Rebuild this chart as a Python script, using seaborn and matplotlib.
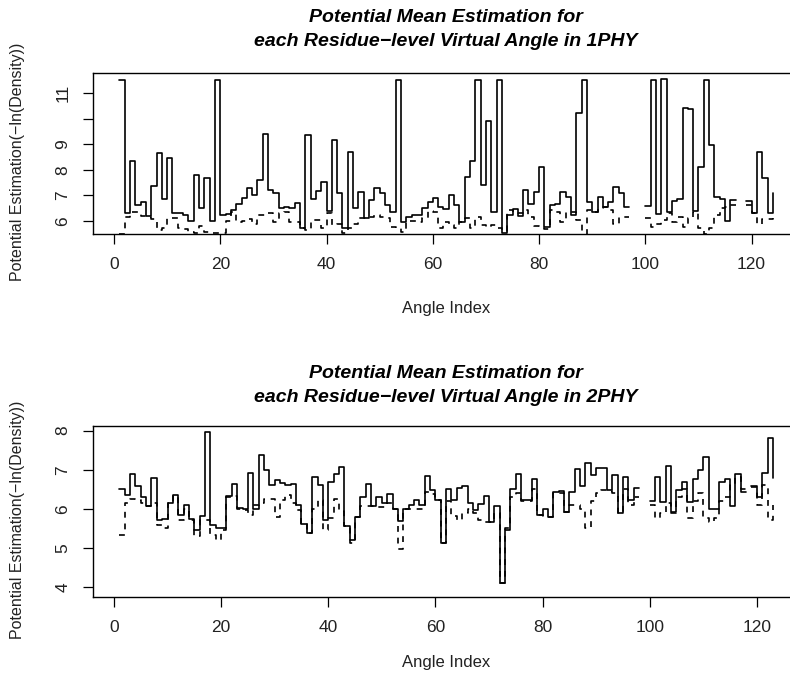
import numpy as np
import pandas as pd
import matplotlib
matplotlib.use("Agg")
import matplotlib.pyplot as plt
import seaborn as sns

NA = np.nan

# ---------------- data ----------------
angle_index_1phy = list(range(1, 125))
potential_1phy_solid = [
    11.53, 6.30, 8.33, 6.63, 6.76, 6.20, 7.37, 8.65, 6.85, 8.46,
    6.33, 6.30, 6.24, 6.00, 7.80, 6.50, 7.70, 6.00, 11.53, 6.24,
    6.27, 6.43, 6.65, 6.90, 7.28, 7.00, 7.60, 9.40, 7.22, 7.08,
    6.52, 6.56, 6.50, 6.72, 5.71, 9.35, 6.85, 7.18, 7.52, 6.40,
    9.16, 7.11, 5.71, 8.70, 6.50, 7.15, 6.10, 6.82, 7.28, 7.08,
    6.63, 6.34, 11.53, 5.97, 6.17, 6.24, 6.24, 6.52, 6.76, 6.89,
    6.56, 6.47, 7.02, 6.63, 5.97, 7.74, 8.33, 11.53, 7.39, 9.92,
    6.37, 11.53, 5.52, 6.24, 6.47, 6.20, 7.22, 6.65, 7.15, 8.13,
    5.78, 6.63, 6.65, 7.15, 6.92, 6.24, 10.22, 11.53, 6.76, 6.37,
    6.92, 6.56, 6.76, 7.35, 7.08, 6.56, NA, NA, NA, 6.60,
    11.53, 6.27, 11.57, 6.37, 6.78, 6.86, 10.44, 10.39, 6.40, 8.13,
    11.53, 8.98, 6.95, 6.86, 6.01, 6.82, NA, NA, 6.78, 6.30,
    8.69, 7.67, 6.30, 7.08,
]
potential_1phy_dashed = [
    5.50, 6.17, 6.34, 6.37, 6.20, 6.17, 6.08, 5.65, 5.71, 6.13,
    6.13, 5.71, 5.68, 5.56, 5.52, 5.82, 5.58, 5.52, 5.52, 5.52,
    6.00, 6.37, 5.97, 6.00, 6.08, 5.87, 6.24, 6.24, 6.30, 5.97,
    6.30, 6.37, 5.97, 5.97, 5.71, 5.65, 6.04, 6.04, 5.71, 6.30,
    5.84, 5.90, 5.52, 5.71, 5.90, 6.13, 6.10, 6.17, 6.24, 6.17,
    6.10, 5.78, 5.71, 5.58, 6.00, 6.00, 5.97, 6.10, 6.39, 6.37,
    5.71, 5.95, 5.84, 5.71, 5.97, 6.10, 5.71, 6.17, 5.84, 5.78,
    5.84, 5.71, 5.60, 6.43, 6.37, 6.30, 6.43, 6.17, 5.82, 5.78,
    5.70, 6.43, 6.37, 5.97, 6.37, 6.37, 6.04, 5.30, 6.43, 6.37,
    6.50, 6.56, 6.43, 5.87, 6.17, 6.17, NA, NA, NA, 6.13,
    5.78, 5.90, 6.04, 6.30, 5.97, 6.17, 5.78, 6.10, 6.37, 5.71,
    5.50, 5.71, 6.24, 6.50, 6.56, 6.63, NA, NA, 6.63, 6.30,
    5.87, 6.08, 6.08, 6.10,
]

angle_index_2phy = list(range(1, 124))
potential_2phy_solid = [
    6.50, 6.35, 6.88, 6.59, 6.29, 6.07, 6.78, 5.71, 5.74, 6.14,
    6.35, 5.84, 6.09, 5.73, 5.45, 5.82, 7.96, 5.57, 5.50, 5.50,
    6.32, 6.63, 6.03, 5.98, 6.92, 6.00, 7.38, 7.00, 6.61, 6.74,
    6.65, 6.62, 6.63, 6.09, 5.62, 5.37, 6.82, 6.60, 5.71, 6.69,
    6.88, 7.06, 5.56, 5.21, 5.79, 6.29, 6.63, 6.07, 6.31, 6.14,
    6.38, 6.00, 5.68, 6.00, 6.09, 6.22, 6.09, 6.84, 6.48, 6.22,
    5.13, 6.50, 6.22, 6.54, 6.59, 6.15, 5.97, 6.12, 6.33, 5.67,
    6.07, 4.10, 5.45, 6.50, 6.88, 6.22, 6.22, 6.75, 5.85, 6.00,
    5.79, 6.42, 6.45, 5.92, 6.44, 7.03, 6.58, 7.16, 6.86, 7.05,
    7.05, 6.48, 6.86, 5.88, 6.80, 6.22, 6.52, NA, NA, 6.20,
    6.80, 6.18, 7.09, 5.92, 6.48, 6.69, 6.18, 6.75, 7.00, 7.33,
    6.00, 6.00, 6.69, 6.75, 6.07, 6.90, 6.44, NA, 6.59, 6.29,
    6.92, 7.80, 6.78,
]
potential_2phy_dashed = [
    5.32, 6.15, 6.25, 6.22, 6.14, 6.07, 6.14, 5.58, 5.50, 6.14,
    6.32, 5.71, 6.00, 5.71, 5.30, 5.71, 5.71, 5.32, 5.21, 5.45,
    6.31, 6.32, 5.98, 5.97, 5.85, 6.09, 6.14, 6.25, 6.26, 5.79,
    6.22, 6.35, 6.14, 5.97, 5.62, 5.37, 5.98, 6.22, 5.45, 5.77,
    6.26, 5.95, 5.56, 5.11, 5.79, 6.07, 6.07, 6.07, 6.05, 6.05,
    6.14, 6.00, 4.96, 5.98, 6.00, 6.00, 5.98, 6.44, 6.38, 6.22,
    5.13, 6.20, 5.80, 5.70, 5.90, 6.00, 5.90, 5.70, 5.65, 5.67,
    5.90, 4.10, 5.50, 6.30, 6.40, 6.20, 6.20, 6.50, 5.85, 5.80,
    5.79, 6.40, 6.40, 5.92, 6.10, 6.10, 6.00, 5.50, 6.20, 6.40,
    6.48, 6.45, 6.40, 5.90, 6.50, 6.10, 6.30, NA, NA, 6.10,
    5.75, 5.90, 6.15, 5.90, 6.30, 6.50, 5.75, 6.20, 6.40, 5.75,
    5.65, 5.75, 6.20, 6.30, 6.60, 6.80, 6.50, NA, 6.55, 6.10,
    6.60, 5.70, 6.10,
]

x_ticks = [0, 20, 40, 60, 80, 100, 120]
y_ticks_1phy = [6, 7, 8, 9, 10, 11]
y_ticklabels_1phy = ["6", "7", "8", "9", "", "11"]
y_ticks_2phy = [4, 5, 6, 7, 8]
title_line1 = "Potential Mean Estimation for"
title_line2 = ["each Residue\u2212level Virtual Angle in 1PHY",
               "each Residue\u2212level Virtual Angle in 2PHY"]
x_label = "Angle Index"
y_label = "Potential Estimation(\u2212ln(Density))"


def r_step_frame(x, y, name):
    """Vertices of an R type='s' step line, split into runs at missing values."""
    verts = []
    n = len(x)
    for i in range(n):
        verts.append((x[i], y[i]))
        if i < n - 1:
            verts.append((x[i + 1], y[i]))
    rows, seg = [], 0
    for xv, yv in verts:
        if yv is None or np.isnan(yv):
            seg += 1
            continue
        rows.append((xv, yv, f"{name}-{seg}", name))
    return pd.DataFrame(rows, columns=["x", "y", "seg", "series"])


sns.set_theme(style="white")
plt.rcParams["font.family"] = ["Liberation Sans", "DejaVu Sans"]
plt.rcParams["axes.linewidth"] = 1.0

W, H = 790, 673
fig = plt.figure(figsize=(W / 100, H / 100), dpi=100)


def px_axes(left, top, right, bottom):
    return fig.add_axes([left / W, 1 - bottom / H, (right - left) / W, (bottom - top) / H])


panels = [
    dict(x=angle_index_1phy, s=potential_1phy_solid, d=potential_1phy_dashed,
         box=(93.2, 73, 799, 234), ylim=(5.49, 11.795), yt=y_ticks_1phy, ytl=y_ticklabels_1phy,
         xlim=(-3.92, 128.92), title_y=(18, 42), xlabel_y=309),
    dict(x=angle_index_2phy, s=potential_2phy_solid, d=potential_2phy_dashed,
         box=(93.2, 426, 799, 596.7), ylim=(3.744, 8.12), yt=y_ticks_2phy, ytl=[str(t) for t in y_ticks_2phy],
         xlim=(-3.88, 127.88), title_y=(373, 397), xlabel_y=662),
]

for p, t2 in zip(panels, title_line2):
    l, t, r, b = p["box"]
    ax = px_axes(l, t, r, b)
    df = pd.concat([r_step_frame(p["x"], p["s"], "solid"),
                    r_step_frame(p["x"], p["d"], "dashed")], ignore_index=True)
    sns.lineplot(data=df, x="x", y="y", units="seg", style="series", estimator=None,
                 sort=False, color="black", linewidth=1.2,
                 dashes={"solid": "", "dashed": (3.5, 3.5)}, legend=False, ax=ax)
    ax.set_xlim(*p["xlim"])
    ax.set_ylim(*p["ylim"])
    ax.set_xticks(x_ticks)
    ax.set_xticklabels([str(v) for v in x_ticks])
    ax.set_yticks(p["yt"])
    ax.set_yticklabels(p["ytl"], rotation=90, va="center")
    ax.set_xlabel("")
    ax.set_ylabel("")
    ax.tick_params(axis="both", direction="out", length=7.5, width=0.9, color="black",
                   labelsize=12.5, labelcolor="#222222", pad=9)
    ax.tick_params(axis="both", which="both", bottom=True, left=True)
    for sp in ax.spines.values():
        sp.set_visible(True)
        sp.set_color("black")
        sp.set_linewidth(1.0)
    for line_text, ty in zip([title_line1, t2], p["title_y"]):
        fig.text(446 / W, 1 - ty / H, line_text, ha="center", va="center",
                 fontsize=14, fontweight="bold", fontstyle="italic", color="black")
    fig.text(446 / W, 1 - p["xlabel_y"] / H, x_label, ha="center", va="center",
             fontsize=12, color="#222222")
    fig.text(18 / W, 1 - ((t + b) / 2 + 8) / H, y_label, ha="center", va="center",
             rotation=90, fontsize=11.5, color="#222222")

fig.savefig("out.png", dpi=100, facecolor="white")
